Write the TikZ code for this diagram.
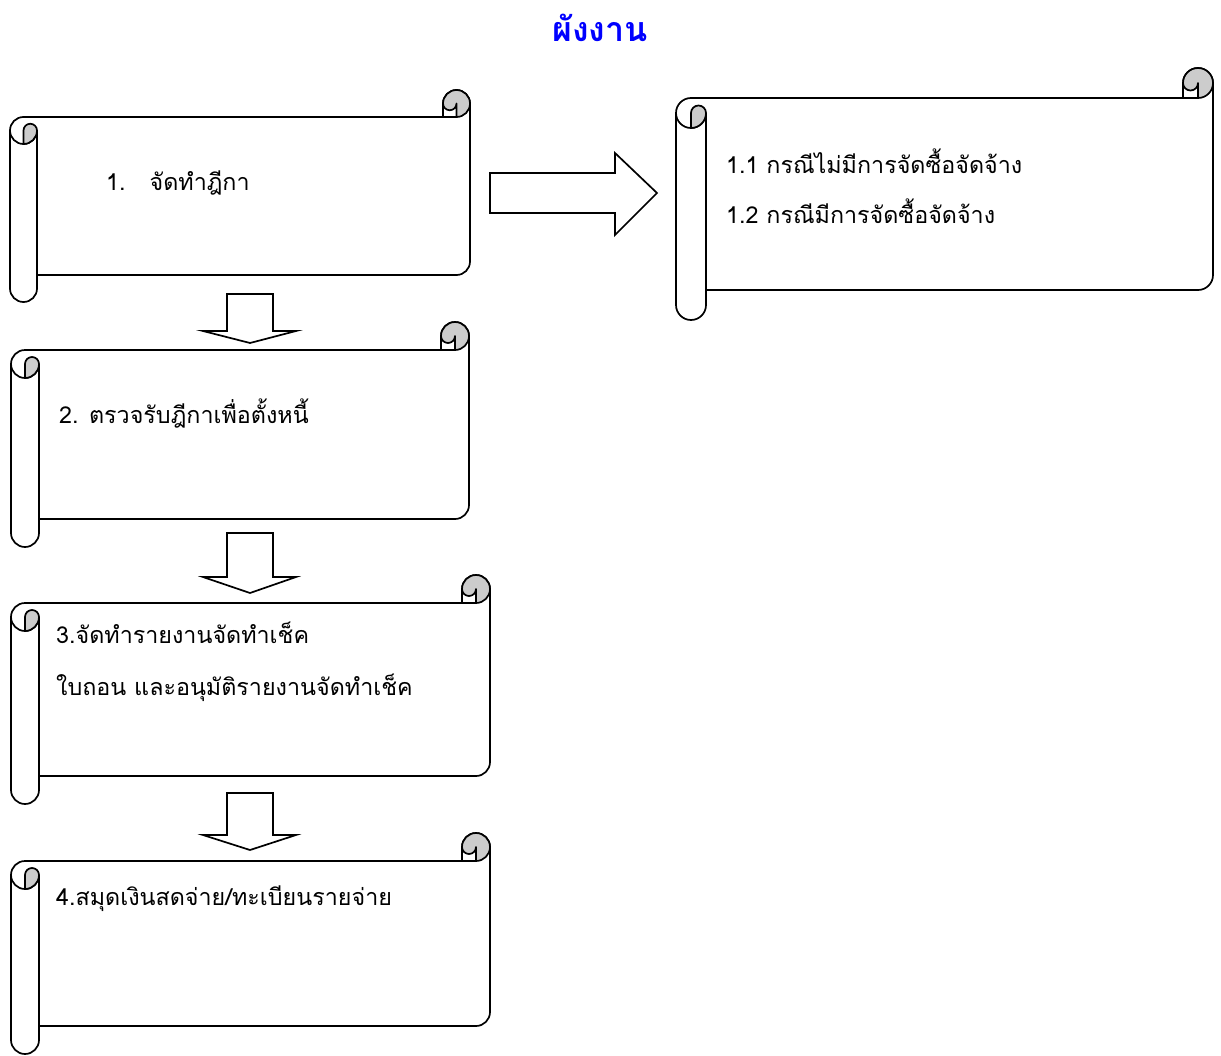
\documentclass[tikz,border=0pt]{standalone}
\usepackage{fontspec}
\setmainfont[Script=Thai]{Loma}
\definecolor{scrollgray}{RGB}{204,204,204}
\definecolor{titleblue}{RGB}{0,0,255}
\tikzset{
  scrollline/.style={line width=1.7pt, line join=round, draw=black},
  blockarrow/.style={line width=1.7pt, line join=miter, draw=black, fill=white},
  txt/.style={inner sep=0pt, anchor=base west, font=\fontsize{23.3}{28}\selectfont},
}
% scroll: left, top, right, bottom (pixels, y downward), curl size
\newcommand\drawscroll[5]{%
  \pgfmathsetmacro\scL{#1}\pgfmathsetmacro\scT{-#2}%
  \pgfmathsetmacro\scR{#3}\pgfmathsetmacro\scB{-#4}%
  \pgfmathsetmacro\scC{#5}\pgfmathsetmacro\scH{#5/2}\pgfmathsetmacro\scQ{#5/4}%
  \draw[scrollline, fill=white] (\scL+\scH, \scT-\scC) -- (\scR-\scC, \scT-\scC) -- (\scR-\scC, \scT-\scH)
    arc[start angle=180, end angle=0, radius=\scH pt] -- (\scR, \scB+\scC+\scH)
    arc[start angle=0, end angle=-90, radius=\scH pt] -- (\scL+\scC, \scB+\scC) -- (\scL+\scC, \scB+\scH)
    arc[start angle=0, end angle=-180, radius=\scH pt] -- (\scL, \scT-\scC-\scH)
    arc[start angle=180, end angle=90, radius=\scH pt] -- cycle;
  \draw[scrollline] (\scR-\scC, \scT-\scC) -- (\scR-\scH, \scT-\scC);
  \draw[scrollline, fill=scrollgray] (\scR-\scC, \scT-\scH)
    arc[start angle=180, end angle=-90, radius=\scH pt] -- (\scR-\scH, \scT-\scH)
    arc[start angle=0, end angle=-180, radius=\scQ pt] -- cycle;
  \draw[scrollline] (\scL, \scT-\scC-\scH) arc[start angle=180, end angle=360, radius=\scH pt];
  \draw[scrollline] (\scL+\scC, \scT-\scC-\scH) -- (\scL+\scC, \scB+\scC);
  \draw[scrollline, fill=scrollgray] (\scL+\scH, \scT-2*\scC) -- (\scL+\scH, \scT-\scC-\scH)
    arc[start angle=180, end angle=0, radius=\scQ pt]
    arc[start angle=0, end angle=-90, radius=\scH pt] -- cycle;
}
\newcommand\dnarrow[3]{%
  \draw[blockarrow] (227,-#1) -- (273,-#1) -- (273,-#2) -- (296,-#2) -- (250,-#3) -- (203,-#2) -- (227,-#2) -- cycle;
}
\begin{document}
\begin{tikzpicture}[x=1pt,y=1pt]
\useasboundingbox[fill=white] (0,0) rectangle (1221,-1055);

\node[inner sep=0pt, anchor=base, text=titleblue, font=\fontsize{34}{40}\selectfont\bfseries] (title) at (600,-41) {ผังงาน};

\drawscroll{10}{90}{470}{302}{27}
\drawscroll{11}{322}{469}{547}{28}
\drawscroll{11}{575}{490}{804}{28}
\drawscroll{11}{833}{490}{1054}{28}
\drawscroll{676}{68}{1213}{320}{30}

% arrows
\draw[blockarrow] (490,-173) -- (615,-173) -- (615,-153) -- (657,-193) -- (615,-235) -- (615,-213) -- (490,-213) -- cycle;
\dnarrow{294}{331}{343}
\dnarrow{533}{577}{593}
\dnarrow{793}{835}{850}

% texts
\node[txt] (s1) at (106,-190) {1.\hspace{24pt}จัดทำฎีกา};
\node[txt] (s11) at (726,-173) {1.1 กรณีไม่มีการจัดซื้อจัดจ้าง};
\node[txt] (s12) at (726,-223) {1.2 กรณีมีการจัดซื้อจัดจ้าง};
\node[txt] (s2) at (59,-423) {2. ตรวจรับฎีกาเพื่อตั้งหนี้};
\node[txt] (s3a) at (56,-643) {3.จัดทำรายงานจัดทำเช็ค};
\node[txt] (s3b) at (56,-695) {ใบถอน และอนุมัติรายงานจัดทำเช็ค};
\node[txt] (s4) at (56,-905) {4.สมุดเงินสดจ่าย/ทะเบียนรายจ่าย};
\end{tikzpicture}
\end{document}
